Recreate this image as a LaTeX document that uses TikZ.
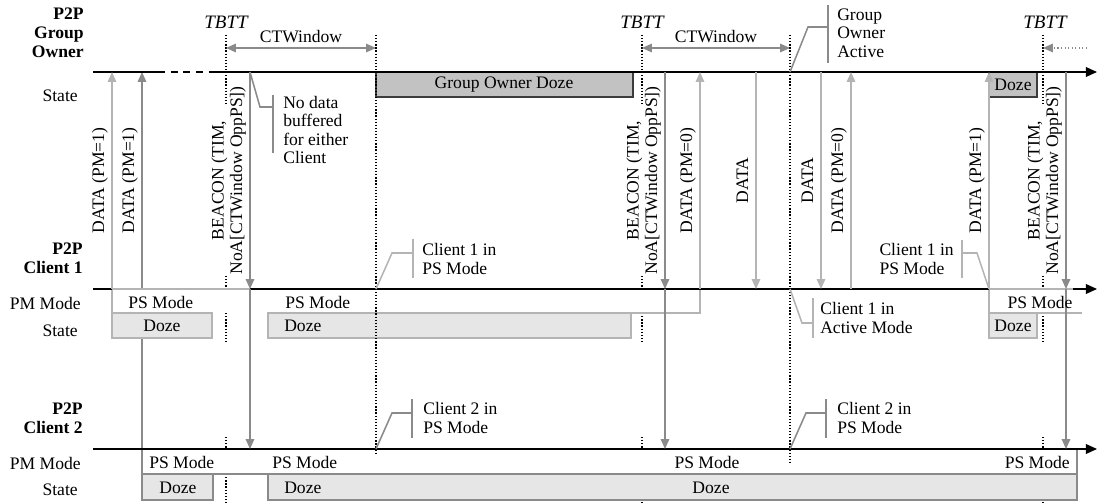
\documentclass[tikz,border=0pt]{standalone}
\usepackage{fontspec}
\setmainfont{Liberation Serif}
\usetikzlibrary{arrows.meta}
\definecolor{liteline}{HTML}{B4B4B4}
\definecolor{midline}{HTML}{8A8A8A}
\definecolor{dozefill}{HTML}{E6E6E6}
\definecolor{godozefill}{HTML}{C2C2C2}
\definecolor{godozeedge}{HTML}{3C3C3C}
\newcommand{\txtsz}{\fontsize{12.5}{13.2}\selectfont}
\tikzset{
    lane/.style={line width=0.9pt, -{Triangle[length=8pt,width=7pt]}},
    litemsg/.style={draw=liteline, line width=1.1pt, -{Triangle[length=7pt,width=6pt]}},
    midmsg/.style={draw=midline, line width=1.1pt, -{Triangle[length=7pt,width=6pt]}},
    msglbl/.style={rotate=90, anchor=south, inner sep=2pt, text depth=3pt, align=center},
    tbttline/.style={line width=0.9pt, dash pattern=on 0.9pt off 1.3pt},
    winline/.style={draw=midline, line width=1.1pt},
    litecall/.style={draw=liteline, line width=1.1pt},
    midcall/.style={draw=midline, line width=1.1pt},
    calltext/.style={align=left, inner sep=0pt},
    pmA/.style={fill=white, draw=liteline, line width=1.1pt},
    pmB/.style={fill=white, draw=midline, line width=1.1pt},
    dozeA/.style={fill=dozefill, draw=liteline, line width=1.1pt},
    dozeB/.style={fill=dozefill, draw=midline, line width=1.1pt},
    godoze/.style={fill=godozefill, draw=godozeedge, line width=1.1pt},
    lanename/.style={anchor=east, align=right, inner sep=0pt, font=\fontsize{12.5}{13.5}\selectfont\bfseries},
    rowname/.style={anchor=east, inner sep=0pt},
    rowtext/.style={inner sep=0pt},
    tbtt/.style={font=\fontsize{13.5}{14}\selectfont\itshape},
}

\begin{document}
\begin{tikzpicture}[x=0.025cm, y=-0.025cm, every node/.style={font=\txtsz}]
    \useasboundingbox (0,0) rectangle (1098,504);

    % lanes and instants
    \coordinate (go) at (93,72);
    \coordinate (goEnd) at (1097,72);
    \coordinate (cA) at (93,289);
    \coordinate (cAEnd) at (1097,289);
    \coordinate (cB) at (93,449);
    \coordinate (cBEnd) at (1097,449);
    \coordinate (tA) at (226,0);
    \coordinate (tB) at (642,0);
    \coordinate (tC) at (1043,0);
    \coordinate (wA) at (376,0);
    \coordinate (wB) at (790,0);
    \coordinate (dA) at (112,0);
    \coordinate (dB) at (142,0);
    \coordinate (bA) at (250,0);
    \coordinate (bB) at (665,0);
    \coordinate (dC) at (700,0);
    \coordinate (dD) at (756,0);
    \coordinate (dE) at (821,0);
    \coordinate (dF) at (851,0);
    \coordinate (dG) at (989,0);
    \coordinate (bC) at (1066,0);

    % TBTT marks
    \foreach \t in {tA,tB,tC} {
        \draw[tbttline] (\t |- 0,35) -- (\t |- 0,105);
        \draw[tbttline] (\t |- 0,276) -- (\t |- 0,342);
        \draw[tbttline] (\t |- 0,437) -- (\t |- 0,504);
    }

    \draw[midmsg] (dB |- cB) -- node[msglbl, pos=.713] {DATA (PM=1)} (dB |- go);

    % state boxes
    \fill[white] (dA |- cA) rectangle (dC |- 0,313);
    \draw[pmA] (212,313) -- (dA |- 0,313) -- (dA |- cA) -- (dC |- cA) -- (dC |- 0,313) -- (268,313);
    \draw[dozeA] (dA |- 0,313) rectangle (212,338);
    \draw[dozeA] (268,313) rectangle (631,338);
    \draw[pmA] (1082,289) -- (dG |- cA) -- (dG |- 0,313) -- (1082,313);
    \draw[dozeA] (dG |- 0,313) rectangle (1037,338);
    \draw[pmB] (dB |- cB) rectangle (1077,474);
    \draw[dozeB] (dB |- 0,474) rectangle (213,500);
    \draw[dozeB] (268,474) rectangle (1077,500);
    \draw[godoze] (wA |- go) rectangle (633,97);
    \draw[godoze] (dG |- go) rectangle (1037,97);

    % time lines
    \draw[line width=0.9pt] (go) -- ++(65,0) coordinate (goDash);
    \draw[line width=0.9pt, dash pattern=on 5pt off 4pt] (goDash) -- ++(57,0) coordinate (goSolid);
    \draw[lane] (goSolid) -- (goEnd);
    \draw[lane] (cA) -- (cAEnd);
    \draw[lane] (cB) -- (cBEnd);
    \draw[litecall] (dA |- cA) -- (bA |- cA);
    \draw[litecall] (dG |- cA) -- (1073,289);

    % CTWindow
    \node[tbtt] (tbttA) at (tA |- 0,22) {TBTT};
    \node[tbtt] (tbttB) at (tB |- 0,22) {TBTT};
    \node[tbtt] (tbttC) at (1045,22) {TBTT};
    \draw[winline, {Triangle[length=7pt,width=6pt]}-{Triangle[length=7pt,width=6pt]}] (tA |- 0,48) -- node[above] {CTWindow} (wA |- 0,48);
    \draw[winline, {Triangle[length=7pt,width=6pt]}-{Triangle[length=7pt,width=6pt]}] (tB |- 0,48) -- node[above] {CTWindow} (wB |- 0,48);
    \draw[winline, dash pattern=on 1pt off 1.5pt, -{Triangle[length=7pt,width=6pt]}] (1087,48) -- (tC |- 0,48);

    % frames
    \draw[litemsg] (dA |- cA) -- node[msglbl] {DATA (PM=1)} (dA |- go);
    \draw[midmsg] (bA |- go) -- node[msglbl] {BEACON (TIM,\\NoA[CTWindow OppPS])} (bA |- cA);
    \draw[midmsg] (bA |- cA) -- (bA |- cB);
    \draw[midmsg] (bB |- go) -- node[msglbl] {BEACON (TIM,\\NoA[CTWindow OppPS])} (bB |- cA);
    \draw[midmsg] (bB |- cA) -- (bB |- cB);
    \draw[litemsg] (dC |- cA) -- node[msglbl] {DATA (PM=0)} (dC |- go);
    \draw[litemsg] (dD |- go) -- node[msglbl] {DATA} (dD |- cA);
    \draw[litemsg] (dE |- go) -- node[msglbl] {DATA} (dE |- cA);
    \draw[litemsg] (dF |- cA) -- node[msglbl] {DATA (PM=0)} (dF |- go);
    \draw[litemsg] (dG |- cA) -- node[msglbl] {DATA (PM=1)} (dG |- go);
    \draw[midmsg] (bC |- go) -- node[msglbl] {BEACON (TIM,\\NoA[CTWindow OppPS])} (bC |- cA);
    \draw[midmsg] (bC |- cA) -- (bC |- cB);

    % window ends
    \draw[tbttline] (wA |- 0,35) -- (wA |- 0,453);
    \draw[tbttline] (wB |- 0,35) -- (wB |- 0,462);

    % callouts
    \draw[midcall] (bA |- go) -- (260,107) -- (273,107);
    \draw[midcall] (273,95) -- (273,153);
    \node[calltext, anchor=west] (nodata) at (283,130) {No data\\buffered\\for either\\Client};
    \draw[litecall] (wA |- cA) -- (392,253) -- (413,253);
    \draw[litecall] (413,239) -- (413,278);
    \node[calltext, anchor=west] (cApsA) at (422,259) {Client 1 in\\PS Mode};
    \draw[midcall] (wB |- go) -- (808,27) -- (828,27);
    \draw[midcall] (828,5) -- (828,63);
    \node[calltext, anchor=west] (goact) at (837,33) {Group\\Owner\\Active};
    \draw[litecall] (wB |- cA) -- (802,323) -- (813,323);
    \draw[litecall] (813,298) -- (813,338);
    \node[calltext, anchor=west] (cAact) at (820,318) {Client 1 in\\Active Mode};
    \draw[litecall] (dG |- cA) -- (977,253) -- (962,253);
    \draw[litecall] (962,240) -- (962,278);
    \node[calltext, anchor=east] (cApsB) at (954,259) {Client 1 in\\PS Mode};
    \draw[midcall] (wA |- cB) -- (392,413) -- (412,413);
    \draw[midcall] (412,399) -- (412,438);
    \node[calltext, anchor=west] (cBpsA) at (423,418) {Client 2 in\\PS Mode};
    \draw[midcall] (wB |- cB) -- (806,413) -- (826,413);
    \draw[midcall] (826,399) -- (826,438);
    \node[calltext, anchor=west] (cBpsB) at (837,418) {Client 2 in\\PS Mode};

    % box texts
    \node[rowtext] (goDozeA) at (504,85) {Group Owner Doze};
    \node[rowtext] (goDozeB) at (1013,85) {Doze};
    \node[rowtext, anchor=west] (cApmA) at (128,302) {PS Mode};
    \node[rowtext, anchor=west] (cApmB) at (285,302) {PS Mode};
    \node[rowtext] (cApmC) at (1040,302) {PS Mode};
    \node[rowtext] (cAdozeA) at (162,326) {Doze};
    \node[rowtext, anchor=west] (cAdozeB) at (284,326) {Doze};
    \node[rowtext] (cAdozeC) at (1013,326) {Doze};
    \node[rowtext, anchor=west] (cBpmA) at (149,462) {PS Mode};
    \node[rowtext, anchor=west] (cBpmB) at (272,462) {PS Mode};
    \node[rowtext] (cBpmC) at (707,462) {PS Mode};
    \node[rowtext, anchor=east] (cBpmD) at (1070,462) {PS Mode};
    \node[rowtext] (cBdozeA) at (178,488) {Doze};
    \node[rowtext, anchor=west] (cBdozeB) at (284,488) {Doze};
    \node[rowtext] (cBdozeC) at (711,488) {Doze};

    % row names
    \node[lanename] (goName) at (84,33) {P2P\\Group\\Owner};
    \node[rowname] (goState) at (78,96) {State};
    \node[lanename] (cAName) at (83,258) {P2P\\Client 1};
    \node[rowname] (cAMode) at (81,303) {PM Mode};
    \node[rowname] (cAState) at (78,331) {State};
    \node[lanename] (cBName) at (83,418) {P2P\\Client 2};
    \node[rowname] (cBMode) at (81,463) {PM Mode};
    \node[rowname] (cBState) at (78,490) {State};
\end{tikzpicture}
\end{document}
